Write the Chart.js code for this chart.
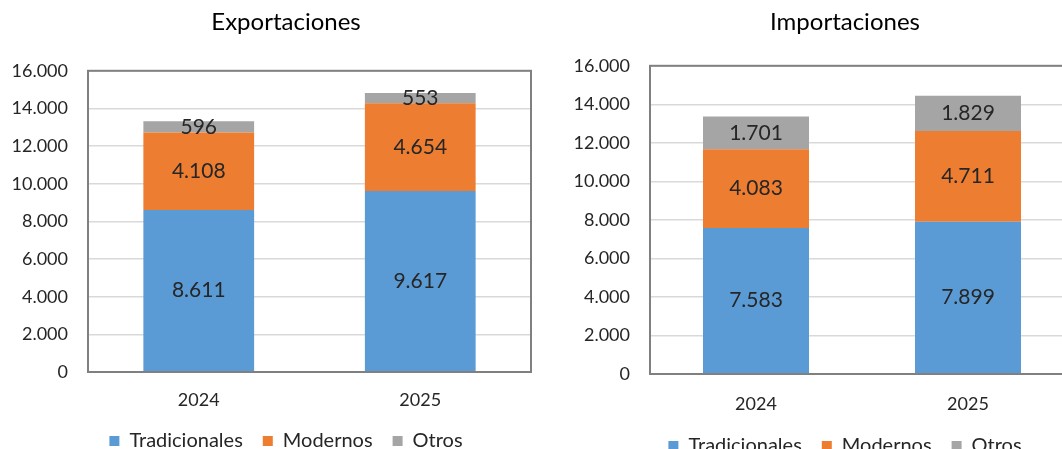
<!DOCTYPE html>
<html>
<head>
<meta charset="utf-8">
<script src="https://cdn.jsdelivr.net/npm/chart.js@4"></script>
<style>
  html, body { margin: 0; padding: 0; background: #fff; }
  body { width: 1062px; height: 449px; overflow: hidden; position: relative; }
  canvas { position: absolute; top: 0; }
  #exp { left: 0; }
  #imp { left: 562px; }
</style>
</head>
<body>
<canvas id="exp" width="572" height="461"></canvas>
<canvas id="imp" width="566" height="466"></canvas>
<script>
const years = ["2024", "2025"];
const seriesNames = ["Tradicionales", "Modernos", "Otros"];
const seriesColors = ["#5B9BD5", "#ED7D31", "#A5A5A5"];

// Exportaciones
const expTradicionales = [8611, 9617];
const expModernos = [4108, 4654];
const expOtros = [596, 553];

// Importaciones
const impTradicionales = [7583, 7899];
const impModernos = [4083, 4711];
const impOtros = [1701, 1829];

const yTicks = [0, 2000, 4000, 6000, 8000, 10000, 12000, 14000, 16000];

const FONT = "Lato";
const TEXT = "#262626";

function fmt(v) {
    return String(v).replace(/\B(?=(\d{3})+(?!\d))/g, ".");
}

// draws the value in the middle of each bar segment
const barLabels = {
    id: "barLabels",
    afterDatasetsDraw(chart) {
        const ctx = chart.ctx;
        ctx.save();
        ctx.font = "21px " + FONT;
        ctx.fillStyle = TEXT;
        ctx.textAlign = "center";
        ctx.textBaseline = "middle";
        chart.data.datasets.forEach((ds, i) => {
            chart.getDatasetMeta(i).data.forEach((bar, j) => {
                ctx.fillText(fmt(ds.data[j]), bar.x, (bar.y + bar.base) / 2);
            });
        });
        ctx.restore();
    }
};

// grey frame round the plot area
const plotFrame = {
    id: "plotFrame",
    afterDraw(chart) {
        const a = chart.chartArea;
        const ctx = chart.ctx;
        ctx.save();
        ctx.strokeStyle = "#808080";
        ctx.lineWidth = 2;
        ctx.strokeRect(a.left, a.top, a.right - a.left, a.bottom - a.top);
        ctx.restore();
    }
};

function makeChart(id, title, data, o) {
    const datasets = seriesNames.map((name, i) => ({
        label: name,
        data: data[i],
        backgroundColor: seriesColors[i],
        borderWidth: 0,
        barPercentage: 0.5,
        categoryPercentage: 1
    }));

    return new Chart(document.getElementById(id), {
        type: "bar",
        data: { labels: years, datasets: datasets },
        plugins: [barLabels, plotFrame],
        options: {
            responsive: false,
            animation: false,
            plugins: {
                title: {
                    display: true,
                    text: title,
                    color: "#000",
                    font: { family: FONT, size: 24, weight: "normal" },
                    padding: { top: 8, bottom: o.titleBottom }
                },
                legend: {
                    position: "bottom",
                    labels: {
                        color: TEXT,
                        font: { family: FONT, size: 20 },
                        boxWidth: 10,
                        boxHeight: 10,
                        padding: 20
                    }
                },
                tooltip: { enabled: false }
            },
            scales: {
                x: {
                    stacked: true,
                    grid: { display: false, drawTicks: false },
                    border: { display: false },
                    ticks: { color: TEXT, font: { family: FONT, size: 18 }, padding: o.xPad },
                    afterFit(scale) { scale.height = o.xHeight; }
                },
                y: {
                    stacked: true,
                    min: 0,
                    max: 16000,
                    afterBuildTicks(scale) { scale.ticks = yTicks.map(v => ({ value: v })); },
                    grid: { color: "#d9d9d9", lineWidth: 1.5, drawTicks: false },
                    border: { display: false },
                    ticks: {
                        color: TEXT,
                        font: { family: FONT, size: 18 },
                        padding: 20,
                        callback: v => fmt(v)
                    },
                    afterFit(scale) { scale.width = 88; }
                },
                // empty right-hand axis, only to keep space right of the plot
                yRight: {
                    position: "right",
                    min: 0,
                    max: 16000,
                    grid: { display: false, drawTicks: false },
                    border: { display: false },
                    ticks: { display: false },
                    afterFit(scale) { scale.width = o.rightSpace; }
                }
            }
        }
    });
}

function draw() {
    makeChart("exp", "Exportaciones", [expTradicionales, expModernos, expOtros],
        { rightSpace: 41, titleBottom: 34, xHeight: 39, xPad: 17 });
    makeChart("imp", "Importaciones", [impTradicionales, impModernos, impOtros],
        { rightSpace: 54, titleBottom: 29, xHeight: 42, xPad: 19 });
}

document.fonts.load("18px " + FONT).then(draw, draw);
</script>
</body>
</html>
